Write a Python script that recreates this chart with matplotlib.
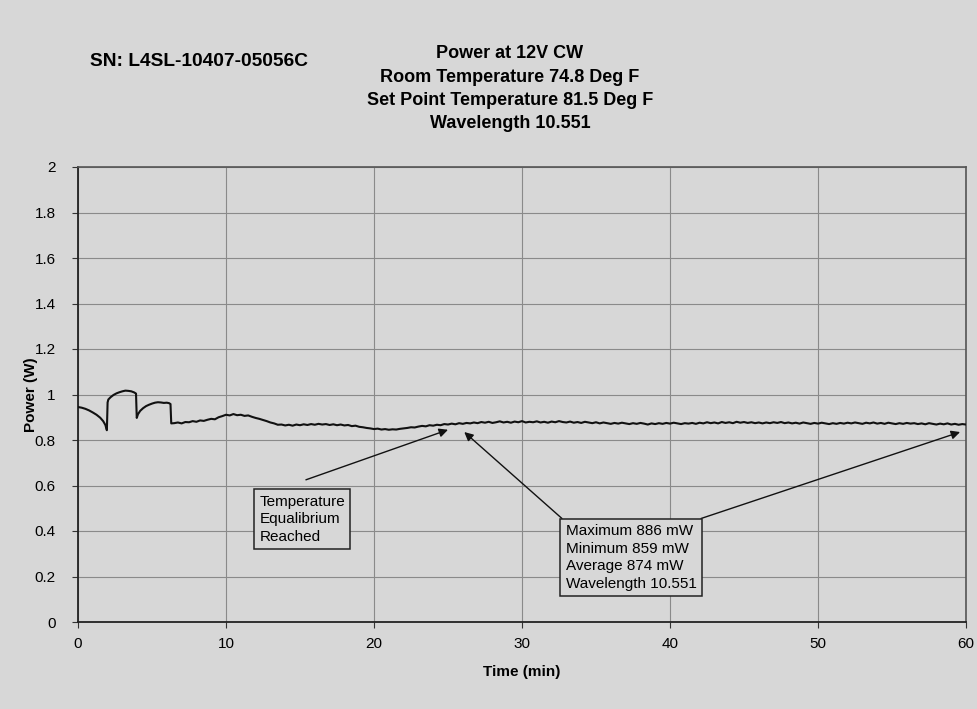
import numpy as np
import matplotlib
matplotlib.use("Agg")
import matplotlib.pyplot as plt

# ---------------- data ----------------
t_early = [0, 0.25, 0.5, 0.75, 1.0, 1.25, 1.5, 1.7, 1.85, 1.95,
           2.0, 2.05, 2.2, 2.4, 2.6, 2.8, 3.0, 3.2, 3.4, 3.6,
           3.8, 3.92, 3.97, 4.05, 4.2, 4.4, 4.6, 4.8, 5.0, 5.2,
           5.4, 5.6, 5.8, 6.0, 6.15, 6.25, 6.3]
p_early = [0.945, 0.942, 0.937, 0.930, 0.921, 0.911, 0.898, 0.883, 0.866, 0.843,
           0.965, 0.978, 0.988, 0.998, 1.005, 1.010, 1.014, 1.017, 1.016, 1.014,
           1.009, 1.004, 0.897, 0.913, 0.928, 0.940, 0.949, 0.955, 0.960, 0.964,
           0.966, 0.965, 0.963, 0.964, 0.962, 0.958, 0.873]

# samples every 0.25 min from 6.5 to 60 min
t_steady = np.arange(6.5, 60.001, 0.25)
p_steady = [
    0.874, 0.877, 0.873, 0.879, 0.878, 0.883, 0.880, 0.886, 0.884, 0.889,
    0.893, 0.891, 0.900, 0.905, 0.911, 0.908, 0.914, 0.909, 0.911, 0.906,
    0.908, 0.902, 0.897, 0.893, 0.888, 0.883, 0.877, 0.873, 0.867, 0.868,
    0.864, 0.867, 0.863, 0.868, 0.865, 0.869, 0.866, 0.870, 0.867, 0.871,
    0.868, 0.870, 0.866, 0.869, 0.865, 0.868, 0.864, 0.866, 0.861, 0.863,
    0.858, 0.856, 0.853, 0.851, 0.848, 0.850, 0.846, 0.848, 0.845, 0.847,
    0.846, 0.849, 0.851, 0.853, 0.856, 0.855, 0.859, 0.862, 0.860, 0.865,
    0.863, 0.867, 0.865, 0.870, 0.868, 0.872, 0.869, 0.874, 0.871, 0.875,
    0.873, 0.877, 0.874, 0.879, 0.876, 0.880, 0.875, 0.878, 0.882, 0.877,
    0.880, 0.876, 0.881, 0.878, 0.883, 0.877, 0.880, 0.878, 0.882, 0.877,
    0.880, 0.876, 0.881, 0.878, 0.883, 0.879, 0.877, 0.881, 0.876, 0.879,
    0.875, 0.880, 0.877, 0.874, 0.878, 0.873, 0.877, 0.874, 0.871, 0.875,
    0.872, 0.876, 0.873, 0.870, 0.874, 0.871, 0.875, 0.872, 0.868, 0.873,
    0.870, 0.874, 0.871, 0.875, 0.872, 0.876, 0.873, 0.870, 0.874, 0.872,
    0.875, 0.871, 0.876, 0.873, 0.878, 0.874, 0.877, 0.873, 0.879, 0.875,
    0.878, 0.874, 0.880, 0.876, 0.879, 0.875, 0.878, 0.874, 0.877, 0.873,
    0.877, 0.874, 0.878, 0.875, 0.879, 0.874, 0.877, 0.873, 0.876, 0.872,
    0.877, 0.874, 0.871, 0.875, 0.872, 0.876, 0.873, 0.870, 0.874, 0.871,
    0.875, 0.872, 0.876, 0.873, 0.877, 0.874, 0.871, 0.876, 0.873, 0.877,
    0.872, 0.875, 0.871, 0.876, 0.873, 0.870, 0.874, 0.871, 0.875, 0.872,
    0.874, 0.870, 0.873, 0.869, 0.874, 0.871, 0.868, 0.872, 0.869, 0.873,
    0.868, 0.871, 0.867, 0.870, 0.868,
]

time_min = np.concatenate([t_early, t_steady])
power_w = np.concatenate([p_early, p_steady])

x_ticks = [0, 10, 20, 30, 40, 50, 60]
y_ticks = [0, 0.2, 0.4, 0.6, 0.8, 1.0, 1.2, 1.4, 1.6, 1.8, 2.0]
y_tick_labels = ["0", "0.2", "0.4", "0.6", "0.8", "1", "1.2", "1.4", "1.6", "1.8", "2"]

sn_text = "SN: L4SL-10407-05056C"
title_lines = ["Power at 12V CW",
               "Room Temperature 74.8 Deg F",
               "Set Point Temperature 81.5 Deg F",
               "Wavelength 10.551"]
note_equilibrium = "Temperature\nEqualibrium\nReached"
note_stats = "Maximum 886 mW\nMinimum 859 mW\nAverage 874 mW\nWavelength 10.551"

# ---------------- figure ----------------
BG = "#d7d7d7"
FONT = "Liberation Sans"
plt.rcParams["font.family"] = [FONT, "DejaVu Sans"]

fig = plt.figure(figsize=(9.78, 7.09), dpi=100, facecolor=BG)
ax = fig.add_axes([78 / 978, 1 - 622 / 709, 888 / 978, 455 / 709])
ax.set_facecolor(BG)

ax.plot(time_min, power_w, color="#111111", lw=1.5, zorder=3)

ax.set_xlim(0, 60)
ax.set_ylim(0, 2)
ax.set_xticks(x_ticks)
ax.set_xticklabels([str(v) for v in x_ticks], fontsize=11)
ax.set_yticks(y_ticks)
ax.set_yticklabels(y_tick_labels, fontsize=11)
ax.tick_params(axis="both", direction="out", length=4, width=0.8, color="#333333")
ax.tick_params(axis="x", pad=7)
ax.tick_params(axis="y", pad=12)

ax.grid(True, color="#8a8a8a", lw=0.8)
ax.set_axisbelow(True)
for side in ["left", "bottom"]:
    ax.spines[side].set_color("#222222")
    ax.spines[side].set_linewidth(1.3)
for side in ["top", "right"]:
    ax.spines[side].set_color("#555555")
    ax.spines[side].set_linewidth(1.2)

ax.set_xlabel("Time (min)", fontsize=11, fontweight="bold")
ax.set_ylabel("Power (W)", fontsize=11, fontweight="bold")
ax.xaxis.set_label_coords(0.5, -0.095)
ax.yaxis.set_label_coords(-0.045, 0.5)

# titles
fig.text(90 / 978, 1 - 61 / 709, sn_text, ha="left", va="center",
         fontsize=13.8, fontweight="bold")
for i, line in enumerate(title_lines):
    fig.text(510 / 978, 1 - (54 + 23.3 * i) / 709, line, ha="center", va="center",
             fontsize=13, fontweight="bold")

# annotations
box_kw = dict(boxstyle="square,pad=0.35", facecolor=BG, edgecolor="#222222", lw=1.1)
ax.text(12.25, 0.56, note_equilibrium, ha="left", va="top", fontsize=11,
        linespacing=1.32, bbox=box_kw, zorder=5)
ax.text(32.95, 0.43, note_stats, ha="left", va="top", fontsize=11,
        linespacing=1.32, bbox=box_kw, zorder=5)

arrow_kw = dict(arrowstyle="-|>", color="#111111", lw=1.0, mutation_scale=13,
                shrinkA=0, shrinkB=0)
ax.annotate("", xy=(25.0, 0.845), xytext=(15.4, 0.625), arrowprops=arrow_kw, zorder=4)
ax.annotate("", xy=(26.1, 0.835), xytext=(32.7, 0.455), arrowprops=arrow_kw, zorder=4)
ax.annotate("", xy=(59.6, 0.835), xytext=(42.1, 0.455), arrowprops=arrow_kw, zorder=4)

fig.savefig("out.png", dpi=100, facecolor=BG)
